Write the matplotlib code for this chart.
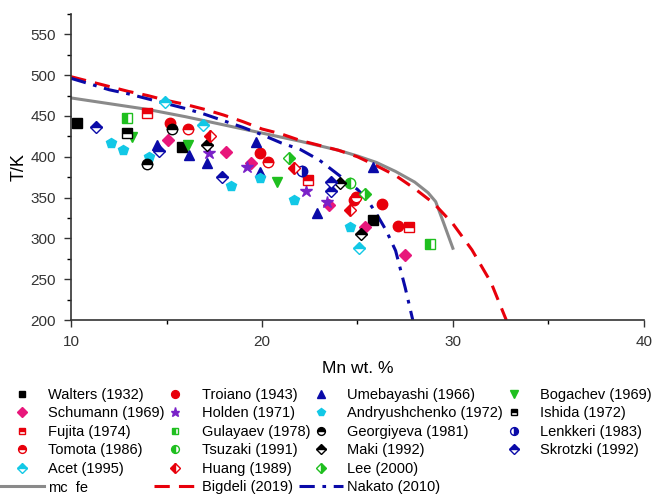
import numpy as np
import matplotlib.pyplot as plt
from matplotlib.lines import Line2D

plt.rcParams['font.family'] = ['Liberation Sans', 'DejaVu Sans']

# model curves
mc_x = [10, 12, 14, 16, 18, 20, 22, 24, 25, 26, 27, 28, 28.7, 29.1, 29.5, 30]
mc_t = [472, 465, 458, 449, 439, 429, 419, 408, 401, 393, 382, 369, 356, 345, 320, 288]
big_x = [10, 11, 12, 13, 14, 15, 16, 17, 18, 19, 20, 21, 22, 23, 24, 25, 26, 27, 28, 29, 30, 31, 32, 32.8]
big_t = [498, 492, 486, 480, 475, 469, 464, 458, 451, 443, 434, 428, 420, 414, 408, 400, 389, 377, 361, 343, 318, 286, 246, 200]
nak_x = [10, 11, 12, 13, 14, 15, 16, 17, 18, 19, 20, 21, 22, 23, 24, 25, 25.5, 26, 26.5, 27, 27.5, 27.9]
nak_t = [496, 489, 482, 477, 471, 465, 459, 452, 444, 436, 427, 417, 409, 396, 378, 360, 348, 330, 310, 285, 240, 200]

# experimental data
walters_x = [10.3, 15.8, 25.8]
walters_t = [441, 412, 322]
troiano_x = [15.2, 19.9, 24.8, 26.3, 27.1]
troiano_t = [441, 404, 347, 342, 315]
umeb_x = [14.5, 16.2, 17.1, 19.7, 19.9, 22.9, 25.8]
umeb_t = [414, 402, 392, 418, 381, 331, 387]
bogachev_x = [13.2, 16.1, 20.8]
bogachev_t = [424, 414, 369]
schumann_x = [15.1, 18.1, 19.4, 23.5, 25.4, 27.5]
schumann_t = [421, 406, 392, 341, 314, 280]
holden_x = [17.2, 19.2, 22.3, 23.4]
holden_t = [404, 387, 358, 345]
andr_x = [12.1, 12.7, 14.1, 18.4, 19.9, 21.7, 24.6]
andr_t = [417, 408, 400, 364, 374, 347, 314]
ishida_x = [12.9]
ishida_t = [429]
fujita_x = [14.0, 22.4, 27.7]
fujita_t = [454, 371, 314]
gulayaev_x = [12.9, 28.8]
gulayaev_t = [448, 293]
georg_x = [14.0, 15.3]
georg_t = [391, 434]
lenkkeri_x = [22.1]
lenkkeri_t = [383]
tomota_x = [16.1, 20.3, 24.9]
tomota_t = [434, 393, 351]
tsuzaki_x = [24.6]
tsuzaki_t = [368]
maki_x = [17.1, 24.1, 25.2]
maki_t = [415, 368, 305]
skrotzki_x = [11.3, 14.6, 17.9, 23.6, 23.6]
skrotzki_t = [436, 407, 375, 369, 358]
acet_x = [14.9, 16.9, 25.1]
acet_t = [467, 439, 288]
huang_x = [17.3, 21.7, 24.6]
huang_t = [426, 386, 335]
lee_x = [21.4, 25.4]
lee_t = [398, 355]

RED = '#e8000b'
BLUE = '#0a0aa8'
GREEN = '#1fbf1f'
PINK = '#e8177b'
PURPLE = '#7a22c8'
CYAN = '#12c8e6'

# (label, x, T, marker, color, fillstyle)
series = [
    ('Walters (1932)', walters_x, walters_t, 's', 'black', 'full'),
    ('Troiano (1943)', troiano_x, troiano_t, 'o', RED, 'full'),
    ('Umebayashi (1966)', umeb_x, umeb_t, '^', BLUE, 'full'),
    ('Bogachev (1969)', bogachev_x, bogachev_t, 'v', GREEN, 'full'),
    ('Schumann (1969)', schumann_x, schumann_t, 'D', PINK, 'full'),
    ('Holden (1971)', holden_x, holden_t, '*', PURPLE, 'full'),
    ('Andryushchenko (1972)', andr_x, andr_t, 'p', CYAN, 'full'),
    ('Ishida (1972)', ishida_x, ishida_t, 's', 'black', 'top'),
    ('Fujita (1974)', fujita_x, fujita_t, 's', RED, 'top'),
    ('Gulayaev (1978)', gulayaev_x, gulayaev_t, 's', GREEN, 'left'),
    ('Georgiyeva (1981)', georg_x, georg_t, 'o', 'black', 'top'),
    ('Lenkkeri (1983)', lenkkeri_x, lenkkeri_t, 'o', BLUE, 'right'),
    ('Tomota (1986)', tomota_x, tomota_t, 'o', RED, 'top'),
    ('Tsuzaki (1991)', tsuzaki_x, tsuzaki_t, 'o', GREEN, 'left'),
    ('Maki (1992)', maki_x, maki_t, 'D', 'black', 'top'),
    ('Skrotzki (1992)', skrotzki_x, skrotzki_t, 'D', BLUE, 'top'),
    ('Acet (1995)', acet_x, acet_t, 'D', CYAN, 'top'),
    ('Huang (1989)', huang_x, huang_t, 'D', RED, 'left'),
    ('Lee (2000)', lee_x, lee_t, 'D', GREEN, 'right'),
]

fig = plt.figure(figsize=(6.65, 4.94), dpi=100)
ax = fig.add_axes([0.107, 0.352, 0.861, 0.62])

h_mc, = ax.plot(mc_x, mc_t, color='#8a8a8a', lw=2.2, label='mc_fe')
h_big, = ax.plot(big_x, big_t, color=RED, lw=2.2, dashes=(5, 3), label='Bigdeli (2019)')
h_nak, = ax.plot(nak_x, nak_t, color=BLUE, lw=2.2, dashes=(5, 2.5, 1.2, 2.5), label='Nakato (2010)')

handles = {}
for name, xs, ts, mk, col, fs in series:
    ms = 9 if mk == '*' else (6.5 if mk in ('s', 'D') else 7.5)
    h, = ax.plot(xs, ts, ls='none', marker=mk, ms=ms, color=col, mec=col,
                 mew=1.0, fillstyle=fs, markerfacecoloralt='white', label=name)
    handles[name] = h

ax.set_xlim(10, 40)
ax.set_ylim(200, 575)
ax.set_xticks([10, 20, 30, 40])
ax.set_xticks([15, 25, 35], minor=True)
ax.set_yticks(np.arange(200, 551, 50))
ax.set_yticks(np.arange(225, 576, 50), minor=True)
ax.tick_params(labelsize=11, colors='#333333', length=5, width=1, pad=6)
ax.tick_params(which='minor', length=3, width=1)
for s in ['top', 'right']:
    ax.spines[s].set_visible(False)
for s in ['left', 'bottom']:
    ax.spines[s].set_color('#333333')
    ax.spines[s].set_linewidth(1.2)
ax.set_xlabel('Mn wt. %', fontsize=12.5, labelpad=8)
ax.set_ylabel('T/K', fontsize=13, labelpad=2)

# legend laid out column by column, last column padded with blanks
blank = Line2D([], [], ls='none', marker='none', label=' ')
order = [
    'Walters (1932)', 'Schumann (1969)', 'Fujita (1974)', 'Tomota (1986)', 'Acet (1995)', h_mc,
    'Troiano (1943)', 'Holden (1971)', 'Gulayaev (1978)', 'Tsuzaki (1991)', 'Huang (1989)', h_big,
    'Umebayashi (1966)', 'Andryushchenko (1972)', 'Georgiyeva (1981)', 'Maki (1992)', 'Lee (2000)', h_nak,
    'Bogachev (1969)', 'Ishida (1972)', 'Lenkkeri (1983)', 'Skrotzki (1992)', blank, blank,
]
hs = [handles[o] if isinstance(o, str) else o for o in order]
labels = [h.get_label() for h in hs]
fig.legend(hs, labels, loc='upper left', bbox_to_anchor=(0.0, 0.215, 0.98, 0.0),
           ncol=4, mode='expand', frameon=False, fontsize=10.5, handlelength=3,
           handletextpad=0.3, labelspacing=0.31, borderaxespad=0, borderpad=0,
           columnspacing=0.5, markerscale=0.75)

fig.savefig('out.png', dpi=100, facecolor='white')
